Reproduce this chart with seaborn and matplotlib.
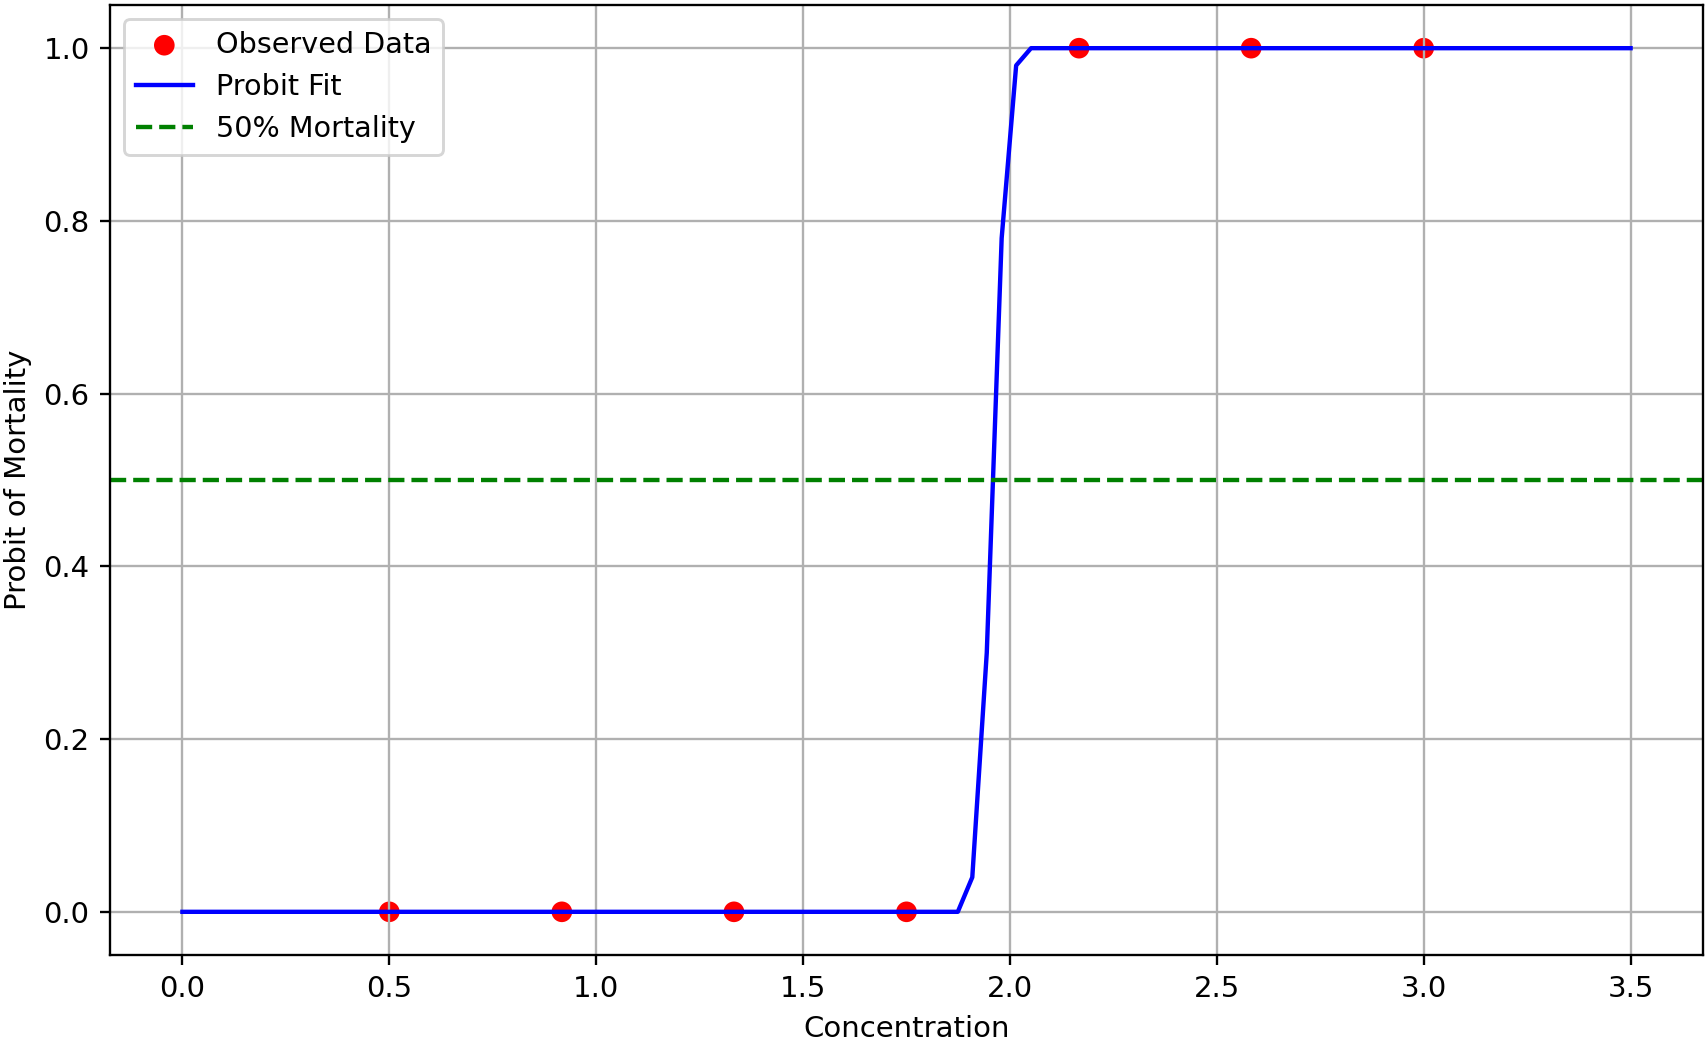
import matplotlib
matplotlib.use("Agg")
import matplotlib.pyplot as plt
import seaborn as sns
import pandas as pd

# observed mortality (0 = alive, 1 = dead) at each concentration
obs_conc = [0.5, 0.917, 1.333, 1.75, 2.167, 2.583, 3.0]
obs_mort = [0, 0, 0, 0, 1, 1, 1]

fit_conc = [0.0, 1.874, 1.909, 1.944, 1.980, 2.015, 2.051, 3.5]
fit_mort = [0.0, 0.0, 0.04, 0.30, 0.78, 0.98, 1.0, 1.0]

obs = pd.DataFrame({"Concentration": obs_conc, "Mortality": obs_mort})
fit = pd.DataFrame({"Concentration": fit_conc, "Mortality": fit_mort})

DPI = 210
fig, ax = plt.subplots(figsize=(1708 / DPI, 1042 / DPI), dpi=DPI)
fig.subplots_adjust(left=110 / 1708, right=1703 / 1708, top=1 - 5 / 1042, bottom=1 - 955 / 1042)

sns.scatterplot(data=obs, x="Concentration", y="Mortality", color="red", s=50,
                edgecolor="none", label="Observed Data", ax=ax)
sns.lineplot(data=fit, x="Concentration", y="Mortality", color="blue",
             label="Probit Fit", ax=ax)
ax.axhline(0.5, color="green", linestyle="--", label="50% Mortality")

ax.set_xlabel("Concentration")
ax.set_ylabel("Probit of Mortality")
ax.legend(loc="upper left", fontsize=9.8)
ax.grid(True)

fig.savefig("out.png", dpi=DPI)
